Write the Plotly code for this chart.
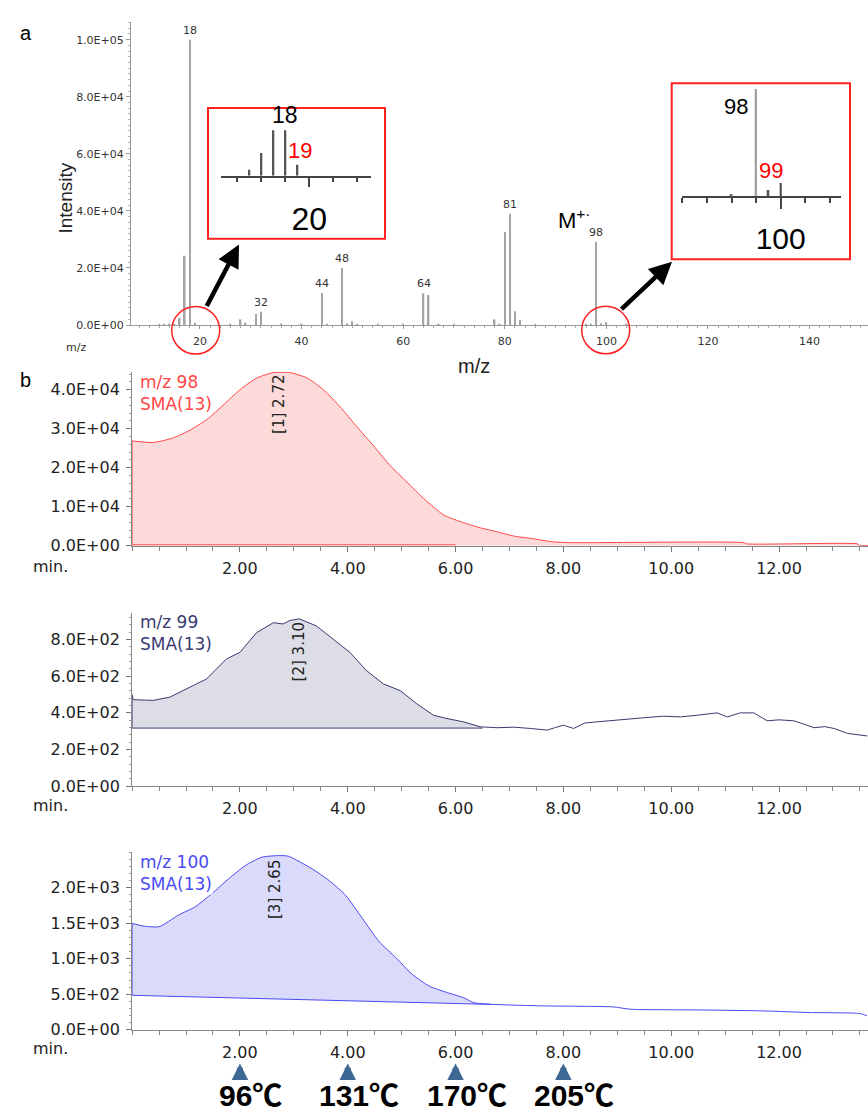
import plotly.graph_objects as go

W, H = 868, 1120
def px(x): return x / W
def py(y): return 1 - y / H

# ---------------- data ----------------
spec_mz = [12, 13, 14, 15, 16, 17, 18, 19, 26, 28, 29, 31, 32, 36, 40, 44, 45, 48, 49, 50,
           51, 55, 60, 64, 65, 67, 70, 78, 79, 80, 81, 82, 83, 86, 96, 97, 98, 99, 100, 104]
spec_int = [300, 400, 500, 300, 2500, 24300, 100000, 800, 400, 2000, 800, 3900, 4700, 500, 300,
            11200, 300, 20000, 600, 1300, 400, 300, 300, 11100, 10500, 400, 300, 2000, 400,
            32600, 39000, 4800, 1800, 300, 500, 400, 29200, 600, 1000, 300]
peak_labels = [18, 32, 44, 48, 64, 81, 98]
spec_yticks = [0, 20000, 40000, 60000, 80000, 100000]
spec_yticktext = ["0.0E+00", "2.0E+04", "4.0E+04", "6.0E+04", "8.0E+04", "1.0E+05"]
spec_xticks = [20, 40, 60, 80, 100, 120, 140]

ins20_mz = [15, 16, 17, 18, 19]
ins20_h = [6, 23, 46, 46, 11]
ins100_mz = [96, 98, 99, 100]
ins100_h = [2, 108, 6, 13]

t98 = [0.0, 0.4, 0.77, 1.08, 1.39, 1.70, 2.0, 2.31, 2.62, 2.93, 3.25, 3.55, 3.86, 4.17, 4.48,
       4.79, 5.1, 5.41, 5.78, 6.15, 6.46, 6.77, 7.08, 7.39, 7.82, 8.13, 11.35, 11.4, 13.45, 13.5, 13.65]
i98 = [26900, 26500, 27700, 29700, 32400, 36200, 40000, 43000, 44400, 44400, 43000, 40000, 35600,
       30500, 25600, 20500, 16300, 12100, 7900, 5900, 4600, 3600, 2500, 1900, 1000, 800, 800, 500,
       500, 100, 100]
base98_t = [0.0, 6.0]
base98_y = [250, 250]

t99 = [0.0, 0.02, 0.39, 0.70, 1.01, 1.38, 1.75, 2.0, 2.31, 2.62, 2.80, 2.93, 3.1, 3.42, 3.73,
       4.04, 4.35, 4.66, 4.97, 5.28, 5.59, 5.84, 6.15, 6.46, 6.77, 7.08, 7.39, 7.70, 7.85, 8.0,
       8.19, 8.40, 8.62, 8.93, 9.24, 9.55, 9.86, 10.17, 10.48, 10.85, 11.04, 11.28, 11.53, 11.78,
       12.0, 12.27, 12.45, 12.65, 12.85, 13.02, 13.27, 13.45, 13.64]
i99 = [500, 472, 468, 486, 531, 585, 694, 730, 838, 892, 885, 904, 913, 874, 802, 730, 630, 558,
       522, 450, 387, 369, 351, 324, 319, 322, 315, 306, 320, 333, 315, 345, 351, 360, 365, 375,
       382, 378, 387, 400, 378, 400, 400, 357, 362, 357, 340, 319, 325, 315, 288, 280, 274]
base99_t = [0.0, 6.5]
base99_y = [317, 317]

t100 = [0.0, 0.2, 0.5, 0.86, 1.17, 1.48, 1.79, 2.1, 2.4, 2.72, 2.9, 3.34, 3.65, 3.96, 4.27, 4.58,
        4.9, 5.2, 5.51, 5.82, 6.15, 6.34, 6.65, 7.15, 7.70, 8.93, 9.24, 10.48, 11.72, 12.58, 13.5, 13.63]
i100 = [1499, 1462, 1452, 1616, 1732, 1918, 2127, 2314, 2430, 2454, 2445, 2267, 2105, 1895, 1570,
        1243, 1010, 778, 615, 530, 451, 381, 359, 345, 335, 321, 289, 279, 265, 242, 228, 196]
base100_t = [0.0, 6.65]
base100_y = [485, 357]

chrom_xticks = [2, 4, 6, 8, 10, 12]
chrom_xticktext = ["2.00", "4.00", "6.00", "8.00", "10.00", "12.00"]
y98_ticks = [0, 10000, 20000, 30000, 40000]
y98_text = ["0.0E+00", "1.0E+04", "2.0E+04", "3.0E+04", "4.0E+04"]
y99_ticks = [0, 200, 400, 600, 800]
y99_text = ["0.0E+00", "2.0E+02", "4.0E+02", "6.0E+02", "8.0E+02"]
y100_ticks = [0, 500, 1000, 1500, 2000]
y100_text = ["0.0E+00", "5.0E+02", "1.0E+03", "1.5E+03", "2.0E+03"]

peak_text = ["[1] 2.72", "[2] 3.10", "[3] 2.65"]
peak_t = [2.72, 3.10, 2.65]
peak_label_y = [36300, 731, 1983]
temps_t = [2, 4, 6, 8]
temps_label = ["96℃", "131℃", "170℃", "205℃"]

RED, RED_FILL = "#ff4646", "rgba(253,218,218,1)"
NAVY, NAVY_FILL = "#3a3a70", "rgba(220,221,230,1)"
BLUE, BLUE_FILL = "#4a4af2", "rgba(218,218,250,1)"
DV = "DejaVu Sans"
AR = "Liberation Sans, Arial"

fig = go.Figure()
fig.add_trace(go.Bar(x=spec_mz, y=spec_int, width=0.3, marker=dict(color="#a4a4a4", line=dict(width=0)),
                     xaxis="x", yaxis="y", showlegend=False, hoverinfo="skip"))
fig.add_trace(go.Bar(x=ins20_mz, y=ins20_h, width=0.16, marker=dict(color="#555", line=dict(width=0)),
                     xaxis="x2", yaxis="y2", showlegend=False, hoverinfo="skip"))
fig.add_trace(go.Bar(x=ins100_mz, y=ins100_h, width=0.14,
                     marker=dict(color=["#666", "#a0a0a0", "#555", "#444"], line=dict(width=0)),
                     xaxis="x3", yaxis="y3", showlegend=False, hoverinfo="skip"))

def subset(t, y, tmax):
    xs, ys = [], []
    for a, b in zip(t, y):
        if a <= tmax:
            xs.append(a); ys.append(b)
    return xs, ys

fig.add_trace(go.Scatter(x=t98, y=i98, mode="lines", line=dict(color=RED, width=1, shape="spline", smoothing=0.6),
                         fill="tozeroy", fillcolor=RED_FILL, xaxis="x4", yaxis="y4", showlegend=False, hoverinfo="skip"))
fig.add_trace(go.Scatter(x=base98_t, y=base98_y, mode="lines", line=dict(color=RED, width=1),
                         xaxis="x4", yaxis="y4", showlegend=False, hoverinfo="skip"))
fig.add_trace(go.Scatter(x=[t98[0], t98[0]], y=[0, i98[0]], mode="lines", line=dict(color=RED, width=1),
                         xaxis="x4", yaxis="y4", showlegend=False, hoverinfo="skip"))

fig.add_trace(go.Scatter(x=base99_t, y=base99_y, mode="lines", line=dict(color=NAVY, width=1),
                         xaxis="x5", yaxis="y5", showlegend=False, hoverinfo="skip"))
sx, sy = subset(t99, i99, base99_t[1])
fig.add_trace(go.Scatter(x=sx, y=sy, mode="lines", line=dict(width=0), fill="tonexty", fillcolor=NAVY_FILL,
                         xaxis="x5", yaxis="y5", showlegend=False, hoverinfo="skip"))
fig.add_trace(go.Scatter(x=[base99_t[0]] + t99, y=[base99_y[0]] + i99, mode="lines", line=dict(color=NAVY, width=1),
                         xaxis="x5", yaxis="y5", showlegend=False, hoverinfo="skip"))

fig.add_trace(go.Scatter(x=base100_t, y=base100_y, mode="lines", line=dict(color=BLUE, width=1),
                         xaxis="x6", yaxis="y6", showlegend=False, hoverinfo="skip"))
sx, sy = subset(t100, i100, base100_t[1])
fig.add_trace(go.Scatter(x=sx, y=sy, mode="lines", line=dict(width=0, shape="spline", smoothing=0.6),
                         fill="tonexty", fillcolor=BLUE_FILL,
                         xaxis="x6", yaxis="y6", showlegend=False, hoverinfo="skip"))
fig.add_trace(go.Scatter(x=t100, y=i100, mode="lines", line=dict(color=BLUE, width=1, shape="spline", smoothing=0.6),
                         xaxis="x6", yaxis="y6", showlegend=False, hoverinfo="skip"))
fig.add_trace(go.Scatter(x=[base100_t[0], base100_t[0]], y=[base100_y[0], i100[0]], mode="lines",
                         line=dict(color=BLUE, width=1), xaxis="x6", yaxis="y6", showlegend=False, hoverinfo="skip"))

lay = dict(width=W, height=H, margin=dict(l=0, r=0, t=0, b=0), autosize=False,
           plot_bgcolor="white", paper_bgcolor="white", barmode="overlay", showlegend=False)

lay["xaxis"] = dict(domain=[px(131), 1], range=[6.42, 151.5], anchor="y", showline=True, linecolor="#999",
                    linewidth=1, ticks="outside", ticklen=3, tickcolor="#999", tickvals=spec_xticks,
                    tickfont=dict(family=DV, size=11, color="#333"), ticklabelstandoff=3,
                    minor=dict(ticks="outside", ticklen=2, dtick=2, tick0=0, tickcolor="#aaa"),
                    showgrid=False, zeroline=False)
lay["yaxis"] = dict(domain=[py(328), py(22)], range=[0, 106250], anchor="x", showline=True, linecolor="#999",
                    linewidth=1, ticks="outside", ticklen=4, tickcolor="#999", tickvals=spec_yticks,
                    ticktext=spec_yticktext, tickfont=dict(family=DV, size=11, color="#333"),
                    minor=dict(ticks="outside", ticklen=2, dtick=2000, tick0=0, tickcolor="#bbb"),
                    showgrid=False, zeroline=False)

lay["xaxis2"] = dict(domain=[px(221), px(371)], range=[12.64, 25.14], anchor="y2", showline=True,
                     linecolor="#444", linewidth=1.5, ticks="outside", ticklen=10, tickwidth=1.5, tickcolor="#444",
                     tickvals=[20], ticktext=["20"], tickfont=dict(family=AR, size=32, color="black"),
                     ticklabelstandoff=4,
                     minor=dict(ticks="outside", ticklen=5, dtick=2, tick0=0, tickcolor="#444", tickwidth=1.5),
                     showgrid=False, zeroline=False)
lay["yaxis2"] = dict(domain=[py(177.3), py(109)], range=[0, 68.3], anchor="x2", visible=False)

lay["xaxis3"] = dict(domain=[px(681.7), px(841)], range=[91.95, 104.9], anchor="y3", showline=True,
                     linecolor="#444", linewidth=1.5, ticks="outside", ticklen=11, tickwidth=1.5, tickcolor="#444",
                     tickvals=[100], ticktext=["100"], tickfont=dict(family=AR, size=30, color="black"),
                     ticklabelstandoff=4,
                     minor=dict(ticks="outside", ticklen=5, dtick=2, tick0=0, tickcolor="#444", tickwidth=1.5),
                     showgrid=False, zeroline=False)
lay["yaxis3"] = dict(domain=[py(197.7), py(84)], range=[0, 113.7], anchor="x3", visible=False)

chrom = [
    (4, [py(550.7), py(375)], [0, 44650], y98_ticks, y98_text, 2000),
    (5, [py(793.3), py(618.3)], [0, 946], y99_ticks, y99_text, 40),
    (6, [py(1039), py(860)], [0, 2500], y100_ticks, y100_text, 100),
]
for i, dom, rng, tv, tt, mdt in chrom:
    lay[f"xaxis{i}"] = dict(domain=[px(132.1), 1], range=[0, 13.65], anchor=f"y{i}", showline=True,
                            linecolor="#888", linewidth=1, ticks="outside", ticklen=5, tickcolor="#777",
                            tickvals=chrom_xticks, ticktext=chrom_xticktext,
                            tickfont=dict(family=DV, size=16, color="#222"), ticklabelstandoff=3,
                            minor=dict(ticks="outside", ticklen=4, dtick=0.5, tick0=0, tickcolor="#888"),
                            showgrid=False, zeroline=False)
    lay[f"yaxis{i}"] = dict(domain=dom, range=rng, anchor=f"x{i}", showline=True, linecolor="#888",
                            linewidth=1, ticks="outside", ticklen=5, tickcolor="#777", tickvals=tv, ticktext=tt,
                            tickfont=dict(family=DV, size=16, color="#222"), ticklabelstandoff=3,
                            minor=dict(ticks="outside", ticklen=2, dtick=mdt, tick0=0, tickcolor="#999"),
                            showgrid=False, zeroline=False)

ann = []
lookup = dict(zip(spec_mz, spec_int))
for m in peak_labels:
    ann.append(dict(x=m, y=lookup[m], xref="x", yref="y", text=str(m), showarrow=False, yanchor="bottom",
                    yshift=1, font=dict(family=DV, size=11, color="#333")))
ann.append(dict(x=px(556), y=py(221), xref="paper", yref="paper", text="M<sup>+·</sup>", showarrow=False,
                xanchor="left", yanchor="middle", font=dict(family=AR, size=22, color="black")))
ann.append(dict(x=px(474), y=py(356), xref="paper", yref="paper", text="m/z", showarrow=False,
                font=dict(family=AR, size=20, color="#222")))
ann.append(dict(x=px(64), y=py(342), xref="paper", yref="paper", text="m/z", showarrow=False,
                font=dict(family=DV, size=11, color="#333")))
ann.append(dict(x=px(53), y=py(162), xref="paper", yref="paper", text="Intensity", showarrow=False,
                textangle=-90, font=dict(family=AR, size=19, color="#222")))
ann.append(dict(x=px(18), y=py(20), xref="paper", yref="paper", text="a", showarrow=False,
                font=dict(family=AR, size=20, color="black")))
ann.append(dict(x=px(18), y=py(383), xref="paper", yref="paper", text="b", showarrow=False,
                font=dict(family=AR, size=20, color="black")))

ann.append(dict(x=18, y=46, xref="x2", yref="y2", text="18", showarrow=False, yanchor="bottom", yshift=0,
                font=dict(family=AR, size=23, color="black")))
ann.append(dict(x=19, y=11, xref="x2", yref="y2", text="19", showarrow=False, yanchor="bottom", xshift=3,
                font=dict(family=AR, size=22, color="red")))
ann.append(dict(x=98, y=90, xref="x3", yref="y3", text="98", showarrow=False, yanchor="middle",
                xanchor="right", xshift=-6, font=dict(family=AR, size=22, color="black")))
ann.append(dict(x=99, y=26, xref="x3", yref="y3", text="99", showarrow=False, yanchor="middle",
                xanchor="center", xshift=3, font=dict(family=AR, size=22, color="red")))

ann.append(dict(x=px(239), y=py(246.7), xref="paper", yref="paper", ax=-33, ay=63, axref="pixel", ayref="pixel",
                showarrow=True, arrowhead=2, arrowsize=1, arrowwidth=4.5, arrowcolor="black", text=""))
ann.append(dict(x=px(672), y=py(264), xref="paper", yref="paper", ax=-52, ay=49, axref="pixel", ayref="pixel",
                showarrow=True, arrowhead=2, arrowsize=1, arrowwidth=4.5, arrowcolor="black", text=""))

legends = [(4, "m/z 98<br>SMA(13)", RED, 374), (5, "m/z 99<br>SMA(13)", NAVY, 616), (6, "m/z 100<br>SMA(13)", BLUE, 859)]
for i, txt, col, ytop in legends:
    ann.append(dict(x=px(139), y=py(ytop), xref="paper", yref="paper", text=txt, showarrow=False,
                    xanchor="left", yanchor="top", align="left", bgcolor="white", borderpad=0,
                    font=dict(family=DV, size=17, color=col)))
for txt, tt, yy, i in zip(peak_text, peak_t, peak_label_y, [4, 5, 6]):
    ann.append(dict(x=tt, y=yy, xref=f"x{i}", yref=f"y{i}", text=txt, showarrow=False, textangle=-90,
                    xanchor="center", yanchor="middle", font=dict(family=DV, size=15, color="#222")))
for yy in [572, 813, 1058]:
    ann.append(dict(x=px(31), y=py(yy), xref="paper", yref="paper", text="min.", showarrow=False,
                    yanchor="middle", font=dict(family=DV, size=16, color="#222")))

for tt, lab in zip(temps_t, temps_label):
    ann.append(dict(x=tt, y=py(1073), xref="x6", yref="paper", ax=0, ay=14, axref="pixel", ayref="pixel",
                    showarrow=True, arrowhead=2, arrowsize=0.55, arrowwidth=6, arrowcolor="#3e6894", text=""))
    ann.append(dict(x=tt, y=py(1105), xref="x6", yref="paper", text=lab, showarrow=False, xshift=11,
                    yanchor="middle", font=dict(family="Liberation Sans, Noto Sans CJK JP", size=30,
                                                color="black", weight="bold")))
lay["annotations"] = ann

shapes = [
    dict(type="rect", xref="paper", yref="paper", x0=px(208), x1=px(385), y0=py(241), y1=py(109),
         line=dict(color="#ff2020", width=2)),
    dict(type="rect", xref="paper", yref="paper", x0=px(671.7), x1=px(850), y0=py(261.7), y1=py(84),
         line=dict(color="#ff2020", width=2)),
    dict(type="circle", xref="paper", yref="paper", x0=px(171.7), x1=px(219.7), y0=py(357.3), y1=py(309.3),
         line=dict(color="#ff2020", width=1.5)),
    dict(type="circle", xref="paper", yref="paper", x0=px(581.7), x1=px(629.7), y0=py(357), y1=py(309),
         line=dict(color="#ff2020", width=1.5)),
]
lay["shapes"] = shapes

fig.update_layout(**lay)
fig.write_html("out.html")
